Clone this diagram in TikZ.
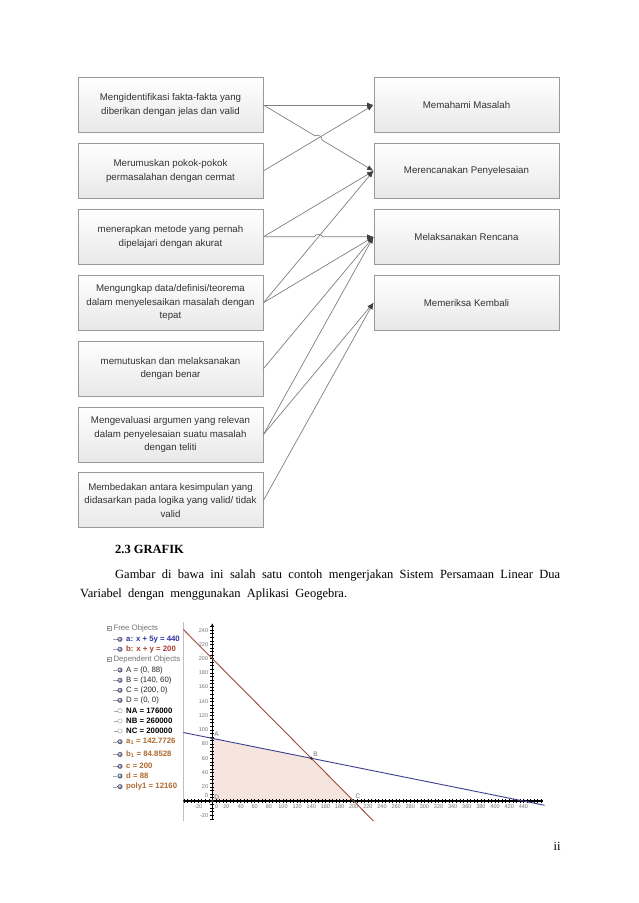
\documentclass[tikz,border=0pt]{standalone}
\usepackage{fontspec}
\setmainfont{Liberation Serif}
\setsansfont{Liberation Sans}
\usetikzlibrary{positioning, calc, arrows.meta}
\definecolor{garisbiru}{HTML}{3B3F92}
\definecolor{garismerah}{HTML}{9E4A3E}
\definecolor{isian}{HTML}{F6E4DF}
\definecolor{teksbiru}{HTML}{2F33A0}
\definecolor{teksmerah}{HTML}{A8402F}
\definecolor{tekscoklat}{HTML}{B06A30}
\tikzset{
  kotak/.style={draw=black!40, line width=0.9pt, top color=white, bottom color=black!9,
    minimum width=185pt, minimum height=55pt, inner sep=1pt, align=center,
    font=\sffamily\fontsize{9.7}{13.6}\selectfont, text=black!80},
  panah/.style={draw=black!50, line width=0.7pt, -{Latex[length=6.5pt,width=5pt,color=black!75]}},
  objek/.style={anchor=west, inner sep=0pt, font=\sffamily\fontsize{7.8}{9}\selectfont},
  bola/.style={circle, inner sep=0pt, minimum size=5pt, ball color=blue!25!gray!70},
  bolakosong/.style={circle, inner sep=0pt, minimum size=4.5pt, draw=black!40, fill=white},
  kotakmin/.style={draw=black!40, line width=0.3pt, minimum size=3.6pt, inner sep=0pt,
    path picture={\draw[black!55, line width=0.4pt] ([xshift=0.7pt]path picture bounding box.west) -- ([xshift=-0.7pt]path picture bounding box.east);}},
  pohon/.style={draw=black!35, line width=0.4pt},
  angka/.style={font=\sffamily\fontsize{5.5}{6}\selectfont, text=black!55, inner sep=0.5pt},
  titik/.style={circle, fill=black!80, inner sep=0pt, minimum size=3.2pt},
  namatitik/.style={font=\sffamily\fontsize{6.5}{7}\selectfont, text=black!55, inner sep=0.5pt},
}

\begin{document}
\begin{tikzpicture}[x=1pt, y=-1pt]
    \useasboundingbox[fill=white] (0,0) rectangle (638,903);
    %kotak kiri: indikator
    \node[kotak] (L1) at (170.5,105) {Mengidentifikasi fakta-fakta yang\\diberikan dengan jelas dan valid};
    \node[kotak, below=10pt of L1] (L2) {Merumuskan pokok-pokok\\permasalahan dengan cermat};
    \node[kotak, below=10pt of L2] (L3) {menerapkan metode yang pernah\\dipelajari dengan akurat};
    \node[kotak, below=10pt of L3] (L4) {Mengungkap data/definisi/teorema\\dalam menyelesaikan masalah dengan\\tepat};
    \node[kotak, below=10pt of L4] (L5) {memutuskan dan melaksanakan\\dengan benar};
    \node[kotak, below=10pt of L5] (L6) {Mengevaluasi argumen yang relevan\\dalam penyelesaian suatu masalah\\dengan teliti};
    \node[kotak, below=10pt of L6] (L7) {Membedakan antara kesimpulan yang\\didasarkan pada logika yang valid/ tidak\\valid};
    %kotak kanan: langkah Polya
    \node[kotak] (R1) at (466.5,105) {Memahami Masalah};
    \node[kotak, below=10pt of R1] (R2) {Merencanakan Penyelesaian};
    \node[kotak, below=10pt of R2] (R3) {Melaksanakan Rencana};
    \node[kotak, below=10pt of R3] (R4) {Memeriksa Kembali};
    %titik lompatan
    \coordinate (X1) at (intersection of L1.east--R2.west and L2.east--R1.west);
    \coordinate (X2) at (intersection of L3.east--R3.west and L4.east--R2.west);
    %panah
    \draw[panah] (L1.east) -- (R1.west);
    \draw[panah] (L1.east) -- ($(X1)!4pt!(L1.east)$) to[bend left=90] ($(X1)!4pt!(R2.west)$) -- (R2.west);
    \draw[panah] (L2.east) -- (R1.west);
    \draw[panah] (L3.east) -- ($(X2)!4pt!(L3.east)$) to[bend left=90] ($(X2)!4pt!(R3.west)$) -- (R3.west);
    \draw[panah] (L3.east) -- (R2.west);
    \draw[panah] (L4.east) -- (R2.west);
    \draw[panah] (L4.east) -- (R3.west);
    \draw[panah] (L5.east) -- (R3.west);
    \draw[panah] (L6.east) -- (R3.west);
    \draw[panah] (L6.east) -- (R4.west);
    \draw[panah] (L7.east) -- (R4.west);
    %judul dan paragraf
    \node[anchor=base west, inner sep=0pt, font=\bfseries\fontsize{12.5}{15}\selectfont] (judul) at (115,553) {2.3 GRAFIK};
    \node[anchor=base west, inner sep=0pt, text width=480pt, align=justify, font=\fontsize{12.5}{19}\selectfont] (paragraf) at (80,578)
      {\hspace*{35pt}Gambar di bawa ini salah satu contoh mengerjakan Sistem Persamaan Linear Dua\linebreak Variabel\ \ dengan\ \ menggunakan\ \ Aplikasi\ \ Geogebra.};
    \node[anchor=base, inner sep=0pt, font=\fontsize{12.5}{15}\selectfont] (halaman) at (557,850) {ii};
    %jendela aljabar
    \node[kotakmin] (bebas) at (109.3,628.3) {};
    \node[objek, text=black!55] (tbebas) at (113.3,628.3) {Free Objects};
    \node[bola] (ia) at (120,639.3) {};
    \node[objek, text=teksbiru, font=\sffamily\bfseries\fontsize{7.8}{9}\selectfont] (ta) at (126,639.3) {a: x + 5y = 440};
    \node[bola] (ib) at (120,649.3) {};
    \node[objek, text=teksmerah, font=\sffamily\bfseries\fontsize{7.8}{9}\selectfont] (tb) at (126,649.3) {b: x + y = 200};
    \node[kotakmin] (terikat) at (109.3,659.3) {};
    \node[objek, text=black!55] (tterikat) at (113.3,659.3) {Dependent Objects};
    \node[bola] (iA) at (120,670) {};
    \node[objek, text=black!85] (tA) at (126,670) {A = (0, 88)};
    \node[bola] (iB) at (120,680.3) {};
    \node[objek, text=black!85] (tB) at (126,680.3) {B = (140, 60)};
    \node[bola] (iC) at (120,690.3) {};
    \node[objek, text=black!85] (tC) at (126,690.3) {C = (200, 0)};
    \node[bola] (iD) at (120,700.3) {};
    \node[objek, text=black!85] (tD) at (126,700.3) {D = (0, 0)};
    \node[bolakosong] (iNA) at (120,710.7) {};
    \node[objek, font=\sffamily\bfseries\fontsize{7.8}{9}\selectfont] (tNA) at (126,710.7) {NA = 176000};
    \node[bolakosong] (iNB) at (120,721) {};
    \node[objek, font=\sffamily\bfseries\fontsize{7.8}{9}\selectfont] (tNB) at (126,721) {NB = 260000};
    \node[bolakosong] (iNC) at (120,731) {};
    \node[objek, font=\sffamily\bfseries\fontsize{7.8}{9}\selectfont] (tNC) at (126,731) {NC = 200000};
    \node[bola] (ia1) at (120,741.7) {};
    \node[objek, text=tekscoklat, font=\sffamily\bfseries\fontsize{7.8}{9}\selectfont] (ta1) at (126,741.7) {a\textsubscript{1} = 142.7726};
    \node[bola] (ib1) at (120,754.5) {};
    \node[objek, text=tekscoklat, font=\sffamily\bfseries\fontsize{7.8}{9}\selectfont] (tb1) at (126,754.5) {b\textsubscript{1} = 84.8528};
    \node[bola] (ic) at (120,766.3) {};
    \node[objek, text=tekscoklat, font=\sffamily\bfseries\fontsize{7.8}{9}\selectfont] (tc) at (126,766.3) {c = 200};
    \node[bola] (id) at (120,776) {};
    \node[objek, text=tekscoklat, font=\sffamily\bfseries\fontsize{7.8}{9}\selectfont] (td) at (126,776) {d = 88};
    \node[bola] (ipoly) at (120,786.7) {};
    \node[objek, text=tekscoklat, font=\sffamily\bfseries\fontsize{7.8}{9}\selectfont] (tpoly) at (126,786.7) {poly1 = 12160};
    \foreach \i in {ia,ib,iA,iB,iC,iD,iNA,iNB,iNC,ia1,ib1,ic,id,ipoly}
      \draw[pohon] (\i.west) -- ++(-4,0);
    %batas jendela grafik
    \draw[black!25, line width=0.6pt] (183.3,622) -- (183.3,821);
    %grafik
    \begin{scope}[shift={(212.3,801)}, x=0.707pt, y=0.712pt]
      \clip (-41,-27) rectangle (470,252);
      \fill[isian] (0,88) -- (140,60) -- (200,0) -- (0,0) -- cycle;
      %sumbu
      \draw[line width=1.2pt] (-41,0) -- (468,0);
      \draw[line width=1.2pt, -{Latex[length=3pt,width=2.5pt]}] (0,-27) -- (0,250);
      \foreach \t in {-40,-35,...,465}
        \draw[line width=0.5pt] (\t,-3) -- (\t,3);
      \foreach \t in {-25,-20,...,245}
        \draw[line width=0.5pt] (-3,\t) -- (3,\t);
      \foreach \v in {-20,20,40,...,440}
        \node[angka, anchor=north] at (\v,-3.5) {\v};
      \node[angka, anchor=north] at (6,-3.5) {0};
      \foreach \v in {-20,20,40,...,240}
        \node[angka, anchor=east] at (-5,\v) {\v};
      \node[angka, anchor=east] at (-5,7) {0};
      %garis a dan b
      \draw[garismerah, line width=0.9pt] (-50,250) -- (230,-30);
      \draw[garisbiru, line width=0.9pt] (-50,98) -- (480,-8);
      %titik sudut
      \node[titik, label={[namatitik, anchor=south west]north east:A}] (A) at (0,88) {};
      \node[titik, label={[namatitik, anchor=south west]north east:B}] (B) at (140,60) {};
      \node[titik, label={[namatitik, anchor=south west]north east:C}] (C) at (200,0) {};
      \node[titik, label={[namatitik, anchor=south west]north east:D}] (D) at (0,0) {};
    \end{scope}
\end{tikzpicture}
\end{document}
